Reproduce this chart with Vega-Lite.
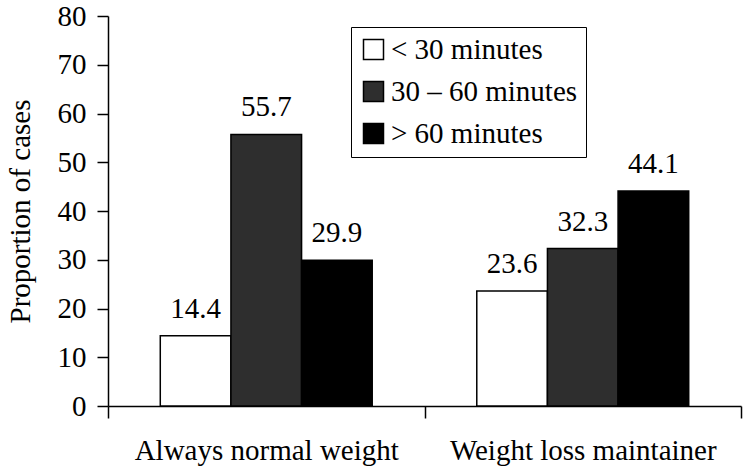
{
  "$schema": "https://vega.github.io/schema/vega-lite/v6.json",
  "autosize": {"type": "none"},
  "padding": {"left": 108, "top": 16, "right": 9, "bottom": 67},
  "width": 633,
  "height": 390,
  "background": "white",
  "config": {
    "font": "Liberation Serif",
    "view": {"stroke": null},
    "axis": {"labelFont": "Liberation Serif", "titleFont": "Liberation Serif", "labelColor": "black", "titleColor": "black", "domainColor": "black", "tickColor": "black", "grid": false}
  },
  "data": {
    "values": [
      {"group": "Always normal weight", "duration": "< 30 minutes", "value": 14.4},
      {"group": "Always normal weight", "duration": "30 – 60 minutes", "value": 55.7},
      {"group": "Always normal weight", "duration": "> 60 minutes", "value": 29.9},
      {"group": "Weight loss maintainer", "duration": "< 30 minutes", "value": 23.6},
      {"group": "Weight loss maintainer", "duration": "30 – 60 minutes", "value": 32.3},
      {"group": "Weight loss maintainer", "duration": "> 60 minutes", "value": 44.1}
    ]
  },
  "encoding": {
    "x": {
      "field": "group", "type": "nominal", "sort": null,
      "scale": {"paddingInner": 0, "paddingOuter": 0},
      "axis": {"title": null, "labelAngle": 0, "labelFontSize": 29, "labelPadding": 18, "labelLimit": 400, "tickSize": 12, "tickBand": "extent", "domainWidth": 1.5, "tickWidth": 1.5}
    },
    "xOffset": {
      "field": "duration", "type": "nominal", "sort": ["< 30 minutes", "30 – 60 minutes", "> 60 minutes"],
      "scale": {"paddingInner": 0, "paddingOuter": 0.74}
    },
    "y": {
      "field": "value", "type": "quantitative",
      "scale": {"domain": [0, 80], "nice": false},
      "axis": {"title": "Proportion of cases", "titleFontSize": 29, "titleFontWeight": "normal", "titlePadding": 22, "labelFontSize": 29, "labelPadding": 11, "tickSize": 11, "values": [0, 10, 20, 30, 40, 50, 60, 70, 80], "domainWidth": 1.5, "tickWidth": 1.5}
    }
  },
  "layer": [
    {
      "mark": {"type": "bar", "stroke": "black", "strokeWidth": 1.5},
      "encoding": {
        "fill": {
          "field": "duration", "type": "nominal",
          "sort": ["< 30 minutes", "30 – 60 minutes", "> 60 minutes"],
          "scale": {"domain": ["< 30 minutes", "30 – 60 minutes", "> 60 minutes"], "range": ["#ffffff", "#2e2e2e", "#000000"]},
          "legend": {
            "title": null, "orient": "none", "legendX": 243, "legendY": 11,
            "symbolType": "square", "symbolSize": 400, "symbolStrokeColor": "black", "symbolStrokeWidth": 1.5,
            "labelFontSize": 29, "labelFont": "Liberation Serif", "labelColor": "black", "labelOffset": 3,
            "rowPadding": 12, "strokeColor": "black", "padding": 8, "fillColor": "white", "labelLimit": 400
          }
        }
      }
    },
    {
      "mark": {"type": "text", "baseline": "alphabetic", "dy": -18, "fontSize": 29, "font": "Liberation Serif", "color": "black"},
      "encoding": {"text": {"field": "value", "type": "quantitative", "format": ".1f"}}
    }
  ]
}
